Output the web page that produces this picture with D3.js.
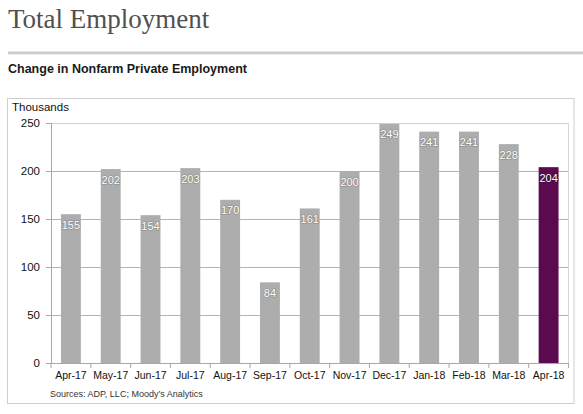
<!DOCTYPE html>
<html lang="en">
<head>
  <meta charset="UTF-8">
  <title>Total Employment</title>
  <script src="https://d3js.org/d3.v7.min.js"></script>
  <style>
    body { margin: 0; background: #fff; }
    svg text { font-family: "Liberation Sans", Arial, sans-serif; }
  </style>
</head>
<body>
  <div id="chart"></div>
  <script>
    // chart data
    const months = ['Apr-17', 'May-17', 'Jun-17', 'Jul-17', 'Aug-17', 'Sep-17', 'Oct-17',
                    'Nov-17', 'Dec-17', 'Jan-18', 'Feb-18', 'Mar-18', 'Apr-18'];
    const jobs = [155, 202, 154, 203, 170, 84, 161, 200, 249, 241, 241, 228, 204];
    const yTicks = [0, 50, 100, 150, 200, 250];

    const width = 583, height = 414;
    const plot = { left: 51, right: 568.5, top: 123, bottom: 363 };

    const svg = d3.select('#chart')
      .append('svg')
      .attr('width', width)
      .attr('height', height);

    // page title and rule
    svg.append('text')
      .attr('x', 8)
      .attr('y', 28)
      .style('font-family', '"Liberation Serif", "Times New Roman", serif')
      .style('font-size', '27px')
      .attr('fill', '#505050')
      .text('Total Employment');

    svg.append('rect')
      .attr('x', 8).attr('y', 51.5)
      .attr('width', width - 8).attr('height', 2.8)
      .attr('fill', '#cccccc');

    svg.append('text')
      .attr('x', 8)
      .attr('y', 72.5)
      .style('font-size', '12.5px')
      .style('font-weight', 'bold')
      .attr('fill', '#1a1a1a')
      .text('Change in Nonfarm Private Employment');

    // outer chart frame
    svg.append('rect')
      .attr('x', 7.5).attr('y', 98.5)
      .attr('width', 566.5).attr('height', 305)
      .attr('fill', 'none')
      .attr('stroke', '#cfcfcf');

    const x = d3.scaleBand()
      .domain(months)
      .range([plot.left, plot.right])
      .paddingInner(0.5)
      .paddingOuter(0.25);

    const y = d3.scaleLinear()
      .domain([0, 250])
      .range([plot.bottom, plot.top]);

    // gridlines
    svg.append('g')
      .selectAll('line')
      .data(yTicks.filter(d => d > 0))
      .enter()
      .append('line')
      .attr('x1', plot.left)
      .attr('x2', plot.right)
      .attr('y1', d => Math.round(y(d)) + 0.5)
      .attr('y2', d => Math.round(y(d)) + 0.5)
      .attr('stroke', d => d === 250 ? '#d0d0d0' : '#b4b4b4');

    // right edge of plot area
    svg.append('line')
      .attr('x1', plot.right).attr('x2', plot.right)
      .attr('y1', plot.top).attr('y2', plot.bottom)
      .attr('stroke', '#d6d6d6');

    // bars
    svg.append('g')
      .selectAll('rect')
      .data(jobs)
      .enter()
      .append('rect')
      .attr('x', (d, i) => x(months[i]))
      .attr('y', d => y(d))
      .attr('width', x.bandwidth())
      .attr('height', d => y(0) - y(d))
      .attr('fill', (d, i) => i === months.length - 1 ? '#5b0a50' : '#adadad');

    // value labels inside the bar tops
    svg.append('g')
      .selectAll('text')
      .data(jobs)
      .enter()
      .append('text')
      .attr('x', (d, i) => x(months[i]) + x.bandwidth() / 2)
      .attr('y', d => y(d) + 14.5)
      .attr('text-anchor', 'middle')
      .style('font-size', '11px')
      .style('paint-order', 'stroke')
      .attr('stroke', (d, i) => i === months.length - 1 ? '#3a0634' : '#8a8a8a')
      .attr('stroke-width', 1.2)
      .attr('fill', '#ffffff')
      .text(d => d);

    // y axis
    const yAxis = svg.append('g')
      .attr('transform', `translate(${plot.left},0)`)
      .call(d3.axisLeft(y).tickValues(yTicks).tickSize(5).tickPadding(6));
    yAxis.select('.domain').attr('stroke', '#a8a8a8');
    yAxis.selectAll('.tick line').attr('stroke', '#a8a8a8');
    yAxis.selectAll('.tick text')
      .style('font-size', '11.5px')
      .attr('fill', '#111');

    // x axis: labels under each bar, ticks on the band boundaries
    const xAxis = svg.append('g')
      .attr('transform', `translate(0,${plot.bottom})`)
      .call(d3.axisBottom(x).tickSize(0).tickPadding(9));
    xAxis.select('.domain').attr('stroke', '#a8a8a8');
    xAxis.selectAll('.tick text')
      .style('font-size', '10.5px')
      .attr('fill', '#111');

    const edge = d3.scaleLinear()
      .domain([0, months.length])
      .range([plot.left, plot.right]);
    svg.append('g')
      .selectAll('line')
      .data(d3.range(months.length + 1))
      .enter()
      .append('line')
      .attr('x1', d => edge(d))
      .attr('x2', d => edge(d))
      .attr('y1', plot.bottom)
      .attr('y2', plot.bottom + 5)
      .attr('stroke', '#a8a8a8');

    svg.append('text')
      .attr('x', 12)
      .attr('y', 110.5)
      .style('font-size', '11.5px')
      .attr('fill', '#111')
      .text('Thousands');

    svg.append('text')
      .attr('x', 50)
      .attr('y', 397)
      .style('font-size', '9px')
      .attr('fill', '#333')
      .text('Sources: ADP, LLC; Moody\u2019s Analytics');
  </script>
</body>
</html>
